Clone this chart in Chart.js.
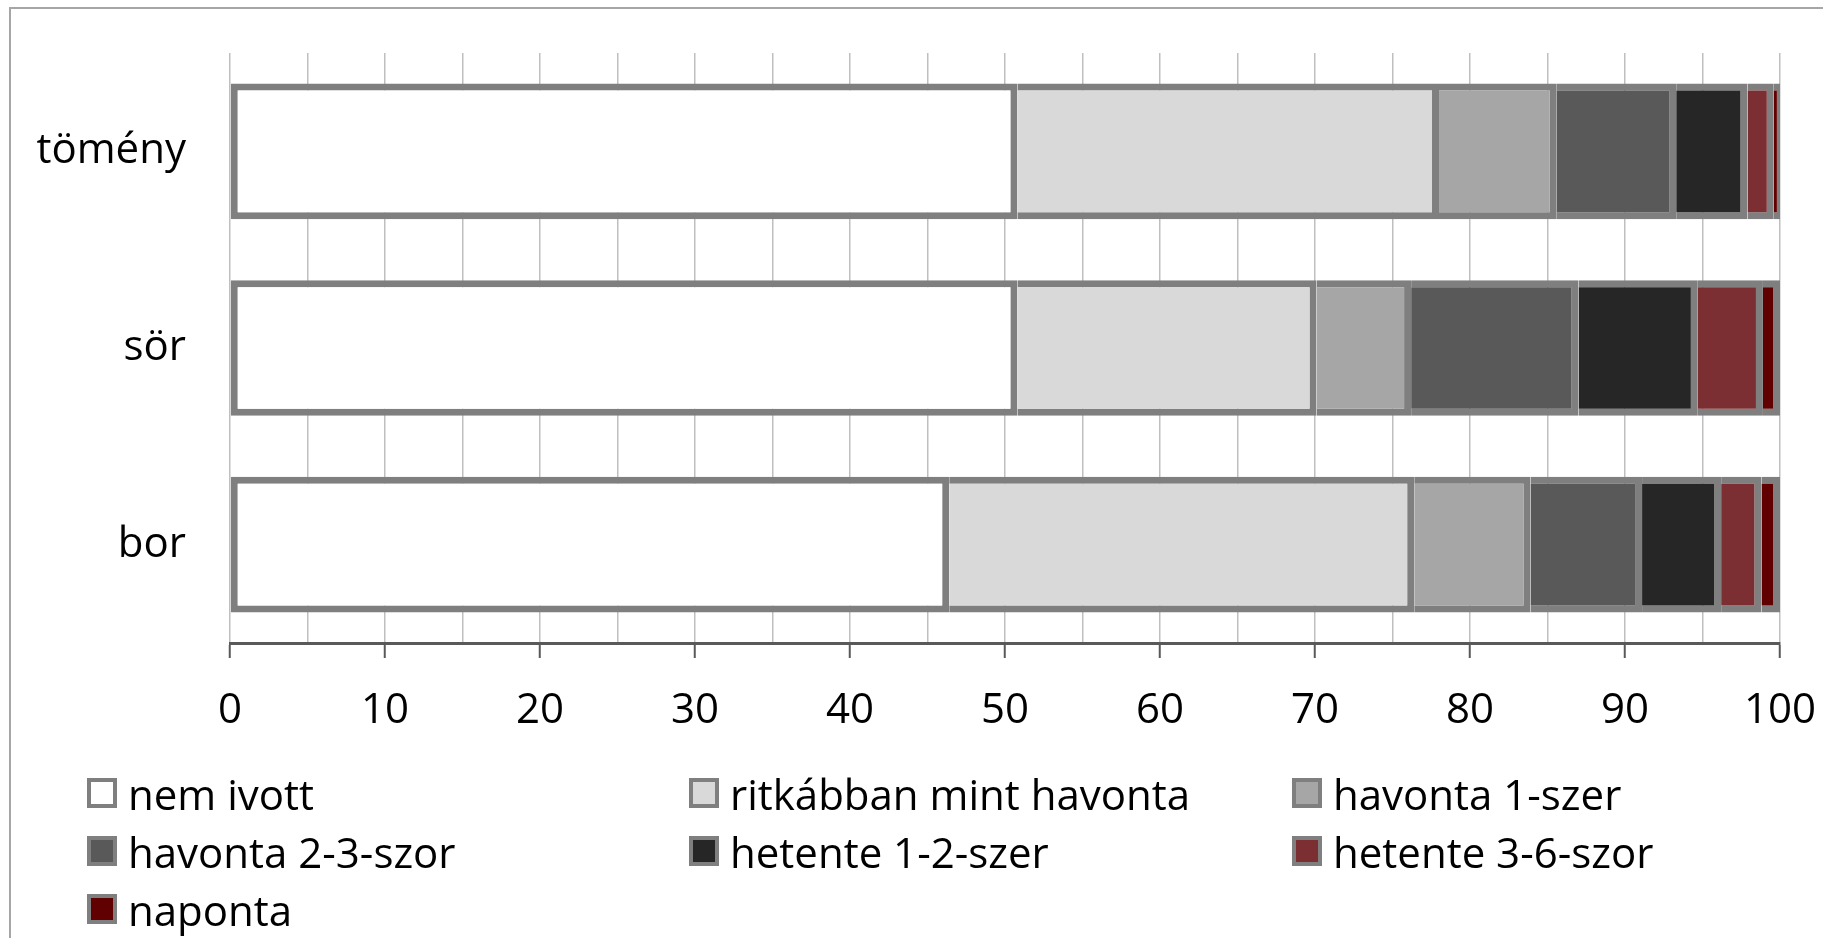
<!DOCTYPE html>
<html lang="hu">
<head>
  <meta charset="UTF-8">
  <title>Alkoholfogyasztás gyakorisága</title>
  <style>
    html, body {
      margin: 0;
      padding: 0;
      background: #fff;
      overflow: hidden;
    }
    #wrap {
      position: relative;
      width: 1823px;
      height: 938px;
      font-family: "Open Sans", sans-serif;
    }
    #frame {
      position: absolute;
      left: 9px;
      top: 7px;
      width: 1900px;
      height: 1000px;
      border: 2px solid #a6a6a6;
      box-sizing: border-box;
      pointer-events: none;
    }
    #chart {
      position: absolute;
      left: 0;
      top: 0;
    }
    .legend-item {
      position: absolute;
      height: 58px;
      display: flex;
      align-items: center;
      font-size: 42px;
      color: #000;
      white-space: nowrap;
    }
    .legend-box {
      width: 30px;
      height: 30px;
      border: 4px solid #7f7f7f;
      box-sizing: border-box;
      margin-right: 11px;
    }
  </style>
  <script src="https://cdn.jsdelivr.net/npm/chart.js"></script>
</head>
<body>
  <div id="wrap">
    <canvas id="chart" width="1823" height="938"></canvas>
    <div id="frame"></div>
    <div id="legend"></div>
  </div>

  <script>
    // categories (top to bottom)
    const categories = ['tömény', 'sör', 'bor'];

    // answer groups, in stacking order
    const seriesNames = [
      'nem ivott',
      'ritkábban mint havonta',
      'havonta 1-szer',
      'havonta 2-3-szor',
      'hetente 1-2-szer',
      'hetente 3-6-szor',
      'naponta'
    ];

    // percentages per category (tömény, sör, bor)
    const nemIvott      = [50.8, 50.8, 46.4];
    const ritkabban     = [27.2, 19.3, 30.0];
    const havonta1      = [7.6, 6.1, 7.5];
    const havonta23     = [7.7, 10.8, 7.2];
    const hetente12     = [4.6, 7.7, 5.1];
    const hetente36     = [1.7, 4.2, 2.6];
    const naponta       = [0.4, 1.1, 1.2];

    const seriesValues = [nemIvott, ritkabban, havonta1, havonta23, hetente12, hetente36, naponta];
    const seriesColors = ['#ffffff', '#d9d9d9', '#a6a6a6', '#595959', '#262626', '#7b2f32', '#600000'];

    // x axis ticks
    const axisMin = 0;
    const axisMax = 100;
    const gridStep = 5;
    const labelStep = 10;

    const datasets = seriesNames.map((name, i) => ({
      label: name,
      data: seriesValues[i],
      backgroundColor: seriesColors[i],
      borderColor: '#7f7f7f',
      borderWidth: 7,
      borderSkipped: i === 0 ? false : 'start',
      categoryPercentage: 1,
      barPercentage: 0.69
    }));

    const font = { family: '"Open Sans", sans-serif', size: 42 };

    new Chart(document.getElementById('chart'), {
      type: 'bar',
      data: { labels: categories, datasets },
      options: {
        indexAxis: 'y',
        responsive: false,
        animation: false,
        events: [],
        layout: { padding: { top: 53, left: 0, right: 43, bottom: 195 } },
        plugins: {
          legend: { display: false },
          tooltip: { enabled: false }
        },
        scales: {
          x: {
            stacked: true,
            min: axisMin,
            max: axisMax,
            afterFit: (scale) => {
              scale.height = 100;
              scale.paddingLeft = 0;
              scale.paddingRight = 0;
            },
            border: { display: true, color: '#595959', width: 3 },
            grid: {
              color: '#bfbfbf',
              lineWidth: 1.5,
              drawTicks: true,
              tickLength: 15,
              tickWidth: 2,
              tickColor: (ctx) => (ctx.tick && ctx.tick.value % labelStep === 0) ? '#595959' : 'rgba(0,0,0,0)'
            },
            ticks: {
              stepSize: gridStep,
              autoSkip: false,
              maxRotation: 0,
              padding: 28,
              color: '#000',
              font,
              callback: (v) => v % labelStep === 0 ? v : ''
            }
          },
          y: {
            stacked: true,
            afterFit: (scale) => {
              scale.width = 230;
              scale.paddingTop = 0;
              scale.paddingBottom = 0;
            },
            border: { display: false },
            grid: { display: false, drawTicks: false },
            ticks: {
              padding: 44,
              color: '#000',
              font
            }
          }
        }
      }
    });

    // legend laid out in three columns like the original
    const legendCols = [87, 689, 1292];
    const legendRows = [793, 851, 909];
    const legend = document.getElementById('legend');
    seriesNames.forEach((name, i) => {
      const item = document.createElement('div');
      item.className = 'legend-item';
      item.style.left = legendCols[i % 3] + 'px';
      item.style.top = (legendRows[Math.floor(i / 3)] - 29) + 'px';
      const box = document.createElement('span');
      box.className = 'legend-box';
      box.style.background = seriesColors[i];
      const txt = document.createElement('span');
      txt.textContent = name;
      item.appendChild(box);
      item.appendChild(txt);
      legend.appendChild(item);
    });
  </script>
</body>
</html>
